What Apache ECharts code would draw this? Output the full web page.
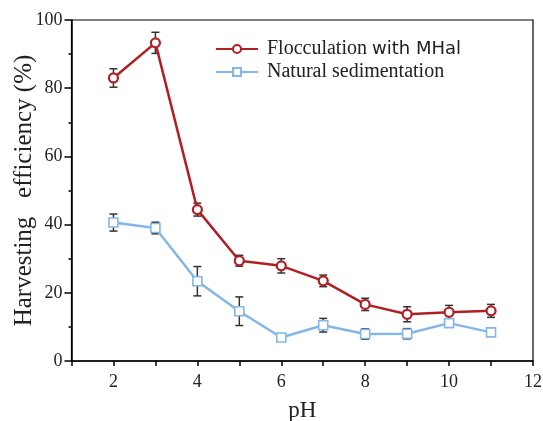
<!DOCTYPE html>
<html>
<head>
<meta charset="utf-8">
<script src="https://cdn.jsdelivr.net/npm/echarts@6/dist/echarts.min.js"></script>
<style>
    html, body {margin: 0; padding: 0; background: #fff;}
    #chartWrap {width: 543px; height: 421px;}
</style>
</head>
<body>
<div id="chartWrap"></div>
<script>
// pH values
const ph = [2, 3, 4, 5, 6, 7, 8, 9, 10, 11];
// Flocculation with MHal
const flocMean = [83.0, 93.3, 44.4, 29.4, 27.9, 23.5, 16.6, 13.7, 14.3, 14.7];
const flocErr = [2.7, 3.1, 1.9, 1.6, 2.1, 1.7, 1.8, 2.2, 2.0, 1.9];
// Natural sedimentation
const natMean = [40.6, 39.0, 23.4, 14.6, 6.9, 10.5, 7.9, 8.0, 11.1, 8.4];
const natErr = [2.5, 1.7, 4.3, 4.2, 1.0, 2.0, 1.5, 1.5, 1.1, 0.8];

const red = '#b01f24';
const blue = '#85b6e8';

function pairs(xs, ys) {
    return xs.map(function (x, i) { return [x, ys[i]]; });
}
function errRows(xs, ys, es) {
    return xs.map(function (x, i) { return [x, ys[i] - es[i], ys[i] + es[i]]; });
}

// error bar drawn with the axis scales
function renderErr(params, api) {
    const lo = api.coord([api.value(0), api.value(1)]);
    const hi = api.coord([api.value(0), api.value(2)]);
    const w = 4;
    const st = {stroke: '#333', lineWidth: 1.5};
    return {
        type: 'group',
        children: [
            {type: 'line', shape: {x1: hi[0], y1: hi[1], x2: lo[0], y2: lo[1]}, style: st},
            {type: 'line', shape: {x1: hi[0] - w, y1: hi[1], x2: hi[0] + w, y2: hi[1]}, style: st},
            {type: 'line', shape: {x1: lo[0] - w, y1: lo[1], x2: lo[0] + w, y2: lo[1]}, style: st}
        ]
    };
}

const myChart = echarts.init(document.getElementById('chartWrap'));
const serif = 'Liberation Serif';

myChart.setOption({
    animation: false,
    grid: {
        left: 71.5, right: 10, top: 20, bottom: 60,
        outerBoundsMode: 'none', containLabel: false,
        show: true, borderColor: '#000', borderWidth: 1.2
    },
    legend: {
        left: 210, top: 34,
        orient: 'vertical',
        itemWidth: 42, itemHeight: 10, itemGap: 3,
        textStyle: {
            fontFamily: serif, fontSize: 20, color: '#222',
            rich: {
                s: {fontFamily: serif, fontSize: 20, color: '#222', padding: [0, 0, 0, 4]},
                a: {fontFamily: 'DejaVu Sans', fontSize: 18, color: '#222'}
            }
        },
        formatter: function (name) {
            if (name === 'Flocculation with MHal') {
                return '{s|Flocculation }{a|with MHal}';
            }
            return '{s|' + name + '}';
        },
        data: ['Flocculation with MHal', 'Natural sedimentation']
    },
    xAxis: {
        type: 'value',
        min: 1, max: 12, interval: 1,
        name: 'pH', nameLocation: 'middle', nameGap: 38, nameMoveOverlap: false,
        nameTextStyle: {fontFamily: serif, fontSize: 23, color: '#222'},
        axisLine: {show: true, lineStyle: {color: '#000', width: 1.5}},
        axisTick: {show: true, inside: false, length: 5, lineStyle: {color: '#000', width: 1.5}},
        axisLabel: {
            fontFamily: serif, fontSize: 18, color: '#222', margin: 12,
            formatter: function (v) { return v % 2 === 0 ? v : ''; }
        },
        splitLine: {show: false}
    },
    yAxis: {
        type: 'value',
        min: 0, max: 100, interval: 20,
        name: 'Harvesting   efficiency (%)', nameLocation: 'middle', nameGap: 35, nameMoveOverlap: false,
        nameTextStyle: {fontFamily: serif, fontSize: 25, color: '#222'},
        axisLine: {show: true, lineStyle: {color: '#000', width: 1.5}},
        axisTick: {show: true, inside: false, length: 7, lineStyle: {color: '#000', width: 1.5}},
        minorTick: {show: true, splitNumber: 2, length: 3, lineStyle: {color: '#000', width: 1.5}},
        axisLabel: {fontFamily: serif, fontSize: 18, color: '#222', margin: 9},
        splitLine: {show: false}
    },
    series: [
        {
            name: 'flocErr', type: 'custom', z: 1,
            renderItem: renderErr,
            encode: {x: 0, y: [1, 2]},
            data: errRows(ph, flocMean, flocErr)
        },
        {
            name: 'natErr', type: 'custom', z: 1,
            renderItem: renderErr,
            encode: {x: 0, y: [1, 2]},
            data: errRows(ph, natMean, natErr)
        },
        {
            name: 'Flocculation with MHal', type: 'line', z: 3,
            symbol: 'circle', symbolSize: 9,
            itemStyle: {color: '#fff', borderColor: red, borderWidth: 2.2},
            lineStyle: {color: red, width: 2.5},
            data: pairs(ph, flocMean)
        },
        {
            name: 'Natural sedimentation', type: 'line', z: 2,
            symbol: 'rect', symbolSize: 9,
            itemStyle: {color: '#fff', borderColor: blue, borderWidth: 1.6},
            lineStyle: {color: blue, width: 2.5},
            data: pairs(ph, natMean)
        }
    ]
});
</script>
</body>
</html>
